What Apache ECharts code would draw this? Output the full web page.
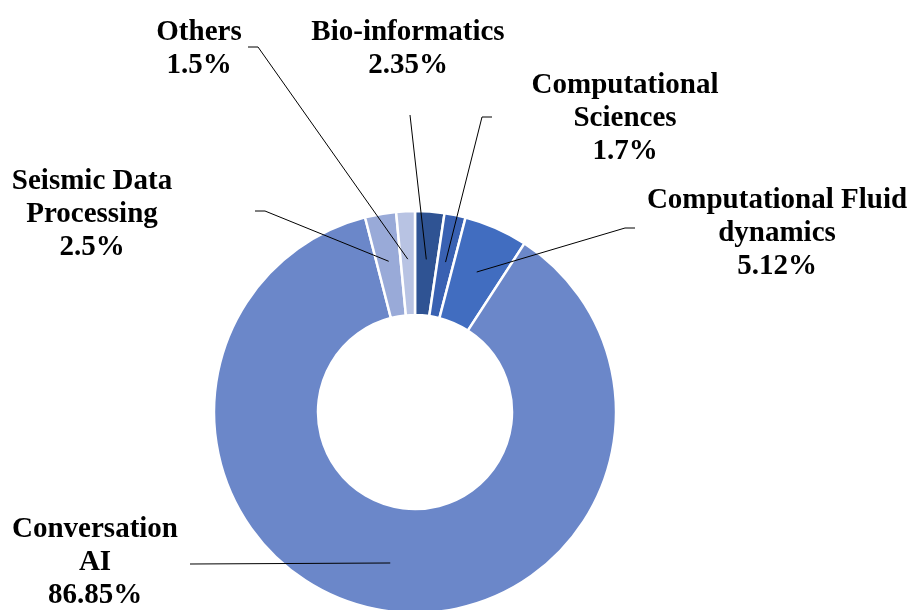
<!DOCTYPE html>
<html>
<head>
<meta charset="utf-8">
<script src="https://cdn.jsdelivr.net/npm/echarts@6/dist/echarts.min.js"></script>
<style>
  html, body { margin: 0; padding: 0; background: #fff; }
  #chart { width: 911px; height: 610px; }
</style>
</head>
<body>
<div id="chart"></div>
<script>
// Workload share by application domain (percent)
const categories = [
  'Bio-informatics',
  'Computational\nSciences',
  'Computational Fluid\ndynamics',
  'Conversation\nAI',
  'Seismic Data\nProcessing',
  'Others'
];
const shares = [2.35, 1.7, 5.12, 86.85, 2.5, 1.5];
const sliceColors = ['#2F5393', '#3961B2', '#416DC0', '#6B87C9', '#99AAD8', '#B8C3E3'];

// Where each label block sits and where its leader line meets it
const labelSpots = [
  { x: 408, y: 49,  endX: 410, endY: 115, elbowX: 410 },
  { x: 625, y: 119, endX: 492, endY: 117, elbowX: 482 },
  { x: 777, y: 234, endX: 635, endY: 228, elbowX: 625 },
  { x: 95,  y: 563, endX: 190, endY: 564, elbowX: 190 },
  { x: 92,  y: 215, endX: 255, endY: 211, elbowX: 265 },
  { x: 199, y: 49,  endX: 248, endY: 47,  elbowX: 258 }
];

const data = categories.map((name, i) => ({
  name: name,
  value: shares[i],
  itemStyle: { color: sliceColors[i] }
}));

const centre = [415, 412];

const chart = echarts.init(document.getElementById('chart'), null, { renderer: 'canvas' });
chart.setOption({
  backgroundColor: '#ffffff',
  animation: false,
  series: [
    {
      // the ring itself
      type: 'pie',
      z: 2,
      center: centre,
      radius: [97, 201],
      startAngle: 90,
      clockwise: true,
      silent: true,
      avoidLabelOverlap: false,
      itemStyle: { borderColor: '#ffffff', borderWidth: 2.5 },
      label: { show: false },
      labelLine: { show: false },
      data: data
    },
    {
      // transparent inner disc drawn above the ring: its edge is the middle
      // of the ring, so leader lines start inside each slice
      type: 'pie',
      z: 5,
      center: centre,
      radius: [0, 153],
      startAngle: 90,
      clockwise: true,
      silent: true,
      avoidLabelOverlap: false,
      itemStyle: { color: 'rgba(0,0,0,0)', borderWidth: 0 },
      label: {
        show: true,
        position: 'outside',
        formatter: p => p.name + '\n' + p.value + '%',
        color: '#000000',
        fontFamily: 'Liberation Serif',
        fontWeight: 'bold',
        fontSize: 29,
        lineHeight: 33,
        align: 'center'
      },
      labelLine: {
        show: true,
        smooth: false,
        lineStyle: { color: '#000000', width: 1 }
      },
      labelLayout: function (params) {
        const s = labelSpots[params.dataIndex];
        const start = params.labelLinePoints ? params.labelLinePoints[0] : [s.endX, s.endY];
        return {
          x: s.x,
          y: s.y,
          align: 'center',
          verticalAlign: 'middle',
          labelLinePoints: [start, [s.elbowX, s.endY], [s.endX, s.endY]]
        };
      },
      data: data.map(d => ({ name: d.name, value: d.value }))
    }
  ]
});
</script>
</body>
</html>
